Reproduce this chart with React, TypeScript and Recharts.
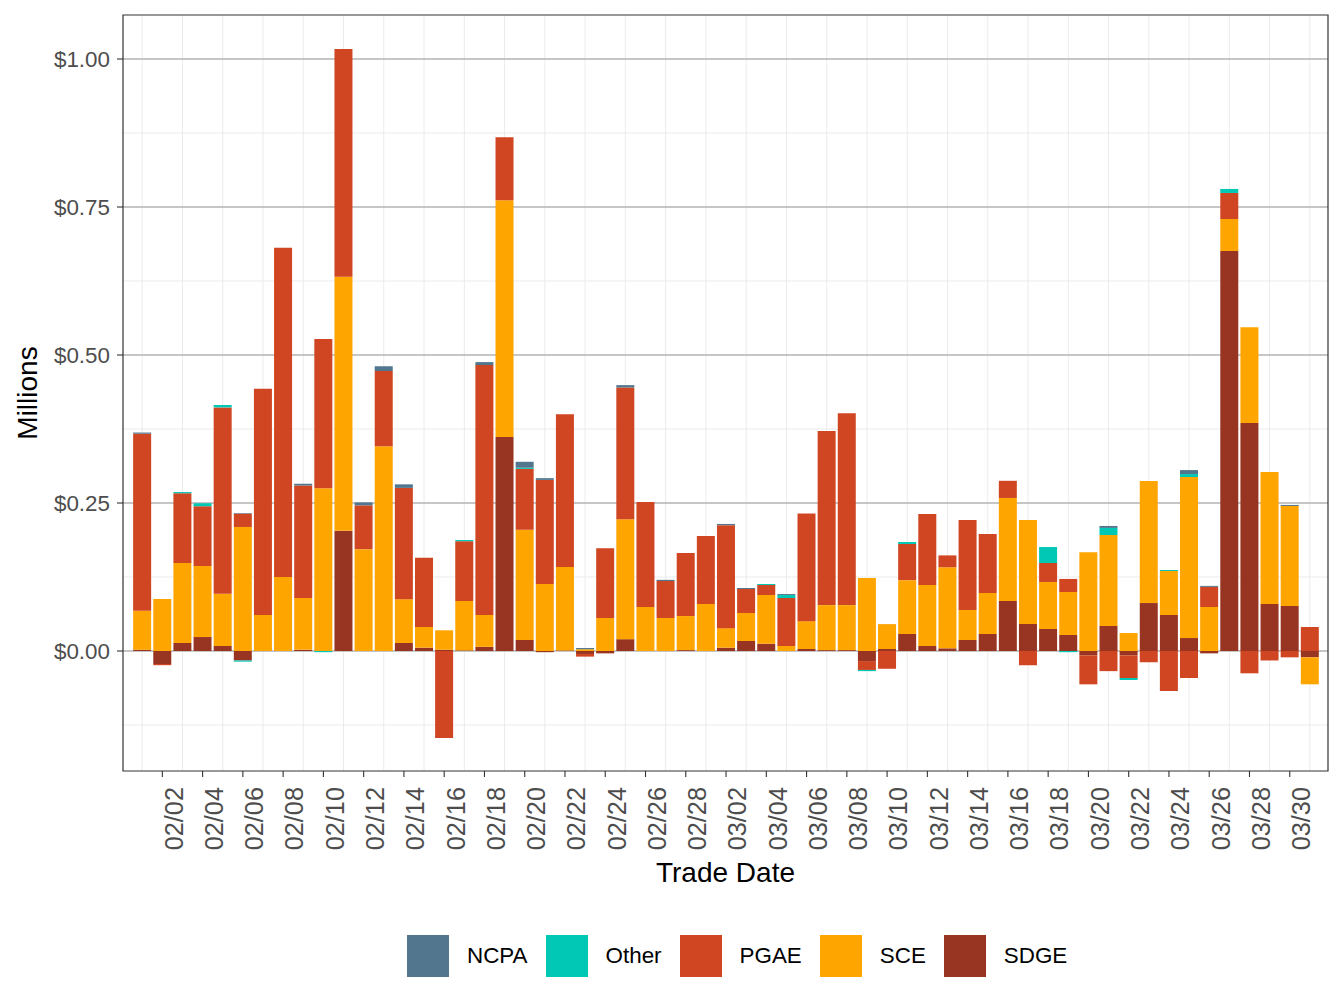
import React from 'react'
import { BarChart, Bar, XAxis, YAxis, CartesianGrid, ReferenceArea, Label } from 'recharts'

const dates = [
  '02/01', '02/02', '02/03', '02/04', '02/05', '02/06', '02/07', '02/08', '02/09', '02/10',
  '02/11', '02/12', '02/13', '02/14', '02/15', '02/16', '02/17', '02/18', '02/19', '02/20',
  '02/21', '02/22', '02/23', '02/24', '02/25', '02/26', '02/27', '02/28', '03/01', '03/02',
  '03/03', '03/04', '03/05', '03/06', '03/07', '03/08', '03/09', '03/10', '03/11', '03/12',
  '03/13', '03/14', '03/15', '03/16', '03/17', '03/18', '03/19', '03/20', '03/21', '03/22',
  '03/23', '03/24', '03/25', '03/26', '03/27', '03/28', '03/29', '03/30', '03/31',
]

// values in millions of dollars
const sdge = [
  0.002, -0.022, 0.0135, 0.0236, 0.0085, -0.016, 0, 0, 0.002, 0,
  0.203, 0, 0, 0.0135, 0.0056, 0.002, 0.001, 0.007, 0.3615, 0.0186,
  -0.002, 0.001, -0.005, -0.004, 0.02, 0, 0, 0.0015, 0, 0.0056,
  0.0169, 0.0123, 0, 0.0034, 0.0015, 0.0015, -0.017, 0.0034, 0.0287, 0.0084,
  0.0045, 0.0186, 0.0287, 0.0845, 0.0456, 0.0372, 0.027, -0.0073, 0.0422, -0.0073,
  0.081, 0.0608, 0.0219, -0.004, 0.6757, 0.385, 0.0794, 0.076, -0.0107,
]
const sce = [
  0.066, 0.088, 0.135, 0.12, 0.088, 0.2095, 0.061, 0.125, 0.0875, 0.275,
  0.429, 0.172, 0.346, 0.074, 0.035, 0.033, 0.0835, 0.054, 0.4, 0.186,
  0.113, 0.141, 0.003, 0.0557, 0.2027, 0.0743, 0.0557, 0.0575, 0.0794, 0.033,
  0.0473, 0.0823, 0.0084, 0.047, 0.076, 0.076, 0.1233, 0.042, 0.091, 0.103,
  0.137, 0.0507, 0.0693, 0.174, 0.1757, 0.0794, 0.0727, 0.167, 0.1537, 0.0304,
  0.206, 0.0743, 0.272, 0.0743, 0.054, 0.162, 0.223, 0.169, -0.0456,
]
const pgae = [
  0.299, -0.002, 0.118, 0.101, 0.315, 0.0225, 0.382, 0.556, 0.19, 0.252,
  0.385, 0.074, 0.127, 0.188, 0.117, -0.147, 0.101, 0.422, 0.1065, 0.103,
  0.176, 0.258, -0.0045, 0.118, 0.2224, 0.1774, 0.0625, 0.1065, 0.1148, 0.174,
  0.0405, 0.0169, 0.0811, 0.182, 0.294, 0.324, -0.015, -0.03, 0.061, 0.12,
  0.02, 0.152, 0.0996, 0.029, -0.024, 0.032, 0.022, -0.049, -0.034, -0.0383,
  -0.019, -0.0676, -0.0456, 0.034, 0.044, -0.0377, -0.016, -0.0107, 0.0405,
]
const other = [
  0, 0, 0.002, 0.005, 0.004, -0.002, 0, 0, 0, -0.002,
  0, 0, 0, 0, 0, 0, 0.002, 0, 0, 0.002,
  0, 0, 0, 0, 0, 0, 0, 0, 0, 0,
  0, 0.0017, 0.005, 0, 0, 0, -0.002, 0, 0.0034, 0,
  0, 0, 0, 0, 0, 0.027, -0.002, 0, 0.012, -0.0034,
  0, 0.0017, 0.005, 0, 0.0068, 0, 0, 0, 0,
]
const ncpa = [
  0.002, 0, 0, 0, 0, 0.001, 0, 0, 0.003, 0,
  0, 0.005, 0.008, 0.006, 0, 0, 0, 0.005, 0, 0.01,
  0.003, 0, 0.002, 0, 0.004, 0, 0.002, 0, 0, 0.002,
  0.0017, 0, 0.0017, 0, 0, 0, 0, 0, 0, 0,
  0, 0, 0, 0, 0, 0, 0, 0, 0.0033, 0,
  0, 0, 0.0067, 0.0017, 0, 0, 0, 0.0017, 0,
]

const yTicks = [0, 0.25, 0.5, 0.75, 1]
const yMinor = [-0.125, 0.125, 0.375, 0.625, 0.875]
const xTicks = dates.map((_, i) => i).filter(i => i % 2 === 1)
const xMinor = dates.map((_, i) => i).filter(i => i % 2 === 0)

// bottom of the stack first
const series = [
  { key: 'SDGE', values: sdge, color: '#983522' },
  { key: 'SCE', values: sce, color: '#FFA500' },
  { key: 'PGAE', values: pgae, color: '#D04522' },
  { key: 'Other', values: other, color: '#00C8B4' },
  { key: 'NCPA', values: ncpa, color: '#51768D' },
]
const legendOrder = ['NCPA', 'Other', 'PGAE', 'SCE', 'SDGE']

const data = dates.map((d, i) => {
  const row: any = { idx: i, date: d }
  series.forEach(s => { row[s.key] = s.values[i] })
  return row
})

const X_DOMAIN: [number, number] = [-0.954, 58.9]
const Y_DOMAIN: [number, number] = [-0.2027, 1.0743]
const FONT = '"Liberation Sans", Arial, Helvetica, sans-serif'

function DateTick({ x, y, payload }: any) {
  return (
    <g transform={`translate(${x},${y + 10})`}>
      <text transform="rotate(-90)" x={0} y={20.3} textAnchor="end" fontSize={25.3} fill="#4d4d4d" fontFamily={FONT}>
        {dates[payload.value]}
      </text>
    </g>
  )
}

function LegendBox() {
  return (
    <div style={{ position: 'absolute', left: 407, top: 935, display: 'flex', alignItems: 'center', fontFamily: FONT, fontSize: 22.4, color: '#000' }}>
      {legendOrder.map(k => {
        const s = series.find(v => v.key === k)!
        return (
          <div key={k} style={{ display: 'flex', alignItems: 'center', marginRight: 18 }}>
            <div style={{ width: 42, height: 42, background: s.color, marginRight: 18 }} />
            <span>{k}</span>
          </div>
        )
      })}
    </div>
  )
}

export default function App() {
  return (
    <div style={{ position: 'absolute', left: 0, top: 0, width: 1344, height: 1008, background: '#fff' }}>
      <BarChart
        width={1344}
        height={1008}
        data={data}
        stackOffset="sign"
        margin={{ top: 15, right: 16, bottom: 122, left: 0 }}
      >
        <CartesianGrid stroke="#ebebeb" strokeWidth={1} horizontalValues={yMinor} verticalValues={xMinor} />
        <CartesianGrid stroke="#b3b3b3" strokeWidth={1.3} horizontalValues={yTicks} vertical={false} />
        <XAxis
          dataKey="idx"
          type="number"
          domain={X_DOMAIN}
          ticks={xTicks}
          interval={0}
          allowDataOverflow
          height={115}
          tickSize={6}
          tickMargin={0}
          tickLine={{ stroke: '#333333', strokeWidth: 1.1 }}
          axisLine={false}
          tick={<DateTick />}
        >
          <Label value="Trade Date" position="insideBottom" offset={4} fontSize={28} fill="#000" fontFamily={FONT} />
        </XAxis>
        <YAxis
          type="number"
          domain={Y_DOMAIN}
          ticks={yTicks}
          allowDataOverflow
          width={123}
          tickSize={6}
          tickMargin={7}
          tickLine={{ stroke: '#333333', strokeWidth: 1.1 }}
          axisLine={false}
          tick={{ fontSize: 22.4, fill: '#4d4d4d', fontFamily: FONT }}
          tickFormatter={(v: number) => `$${v.toFixed(2)}`}
        >
          <Label
            content={() => (
              <text transform="translate(37,393) rotate(-90)" textAnchor="middle" fontSize={28} fill="#000" fontFamily={FONT}>
                Millions
              </text>
            )}
          />
        </YAxis>
        {series.map(s => (
          <Bar key={s.key} dataKey={s.key} stackId="a" fill={s.color} barSize={18} isAnimationActive={false} />
        ))}
        <ReferenceArea
          x1={X_DOMAIN[0]}
          x2={X_DOMAIN[1]}
          y1={Y_DOMAIN[0]}
          y2={Y_DOMAIN[1]}
          fill="none"
          stroke="#333333"
          strokeWidth={1.2}
          ifOverflow="visible"
        />
      </BarChart>
      <LegendBox />
    </div>
  )
}
